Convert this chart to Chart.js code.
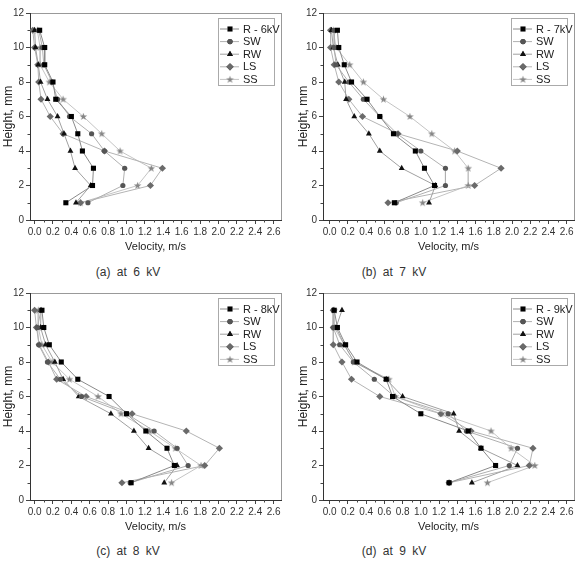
<!DOCTYPE html>
<html>
<head>
<meta charset="utf-8">
<script src="https://cdn.jsdelivr.net/npm/chart.js@4.4.1/dist/chart.umd.min.js"></script>
<style>
body { margin: 0; background: #fff; width: 581px; height: 564px; position: relative; overflow: hidden; font-family: "Liberation Sans", Arial, sans-serif; }
canvas { position: absolute; }
.cap { position: absolute; font-size: 12px; color: #333; word-spacing: 3px; transform: translateX(-50%); white-space: nowrap; }
</style>
</head>
<body>
<canvas id="c0" width="290" height="260" style="left:0;top:0"></canvas>
<canvas id="c1" width="291" height="260" style="left:290px;top:0"></canvas>
<canvas id="c2" width="290" height="260" style="left:0;top:280px"></canvas>
<canvas id="c3" width="291" height="260" style="left:290px;top:280px"></canvas>
<div class="cap" style="left:128px;top:265px">(a) at 6 kV</div>
<div class="cap" style="left:394px;top:265px">(b) at 7 kV</div>
<div class="cap" style="left:128px;top:544px">(c) at 8 kV</div>
<div class="cap" style="left:394px;top:544px">(d) at 9 kV</div>
<script>
// heights where velocity was measured (top to bottom)
const heights = [11, 10, 9, 8, 7, 6, 5, 4, 3, 2, 1];
const xTicks = [0, 0.2, 0.4, 0.6, 0.8, 1.0, 1.2, 1.4, 1.6, 1.8, 2.0, 2.2, 2.4, 2.6];
const yTicks = [0, 2, 4, 6, 8, 10, 12];

// 6 kV
const r6  = [0.055, 0.11, 0.11, 0.20, 0.23, 0.40, 0.47, 0.52, 0.64, 0.63, 0.34];
const sw6 = [0.045, 0.085, 0.10, 0.19, 0.25, 0.38, 0.62, 0.76, 0.98, 0.96, 0.58];
const rw6 = [0.0, 0.01, 0.04, 0.065, 0.14, 0.25, 0.32, 0.39, 0.44, 0.61, 0.45];
const ls6 = [-0.02, 0.0, 0.035, 0.045, 0.07, 0.17, 0.31, 0.76, 1.39, 1.26, 0.50];
const ss6 = [0.03, 0.06, 0.06, 0.16, 0.31, 0.53, 0.73, 0.93, 1.27, 1.12, 0.50];

// 7 kV
const r7  = [0.085, 0.10, 0.16, 0.24, 0.41, 0.55, 0.70, 0.94, 1.04, 1.15, 0.71];
const sw7 = [0.05, 0.05, 0.07, 0.21, 0.37, 0.55, 0.74, 1.00, 1.27, 1.27, 0.73];
const rw7 = [0.02, 0.04, 0.09, 0.165, 0.18, 0.27, 0.43, 0.55, 0.79, 1.16, 1.09];
const ls7 = [0.01, 0.01, 0.05, 0.10, 0.21, 0.36, 0.75, 1.40, 1.88, 1.59, 0.64];
const ss7 = [0.04, 0.07, 0.22, 0.37, 0.59, 0.88, 1.12, 1.37, 1.52, 1.52, 1.02];

// 8 kV
const r8  = [0.08, 0.10, 0.16, 0.29, 0.47, 0.81, 1.00, 1.21, 1.44, 1.52, 1.05];
const sw8 = [0.07, 0.03, 0.045, 0.14, 0.28, 0.51, 1.00, 1.30, 1.55, 1.67, 1.04];
const rw8 = [0.07, 0.065, 0.12, 0.22, 0.31, 0.48, 0.83, 1.08, 1.24, 1.55, 1.41];
const ls8 = [0.0, 0.02, 0.05, 0.15, 0.24, 0.56, 1.06, 1.65, 2.01, 1.85, 0.95];
const ss8 = [0.04, 0.04, 0.08, 0.19, 0.38, 0.69, 0.94, 1.25, 1.53, 1.81, 1.49];

// 9 kV
const r9  = [0.05, 0.085, 0.175, 0.30, 0.62, 0.69, 1.00, 1.52, 1.66, 1.82, 1.31];
const sw9 = [0.04, 0.04, 0.11, 0.26, 0.49, 0.71, 1.30, 1.50, 2.06, 1.97, 1.31];
const rw9 = [0.135, 0.07, 0.16, 0.27, 0.62, 0.80, 1.36, 1.42, 1.66, 2.06, 1.56];
const ls9 = [0.04, 0.04, 0.04, 0.135, 0.24, 0.55, 1.22, 1.55, 2.23, 2.19, 1.31];
const ss9 = [0.05, 0.05, 0.16, 0.27, 0.65, 0.72, 1.22, 1.77, 1.99, 2.25, 1.73];

const seriesNames = ['SW', 'RW', 'LS', 'SS'];

// filled star marker
const star = document.createElement('canvas');
star.width = 9; star.height = 9;
(function () {
    const g = star.getContext('2d');
    g.fillStyle = '#858585';
    g.beginPath();
    for (let i = 0; i < 10; i++) {
        const a = -Math.PI / 2 + i * Math.PI / 5;
        const rr = i % 2 ? 1.6 : 4;
        g.lineTo(4.5 + rr * Math.cos(a), 4.7 + rr * Math.sin(a));
    }
    g.closePath();
    g.fill();
})();

const styles = [
    { pointStyle: 'rect', color: '#000', line: '#8a8a8a', radius: 3.6 },
    { pointStyle: 'circle', color: '#555', line: '#b0b0b0', radius: 2.6 },
    { pointStyle: 'triangle', color: '#111', line: '#a0a0a0', radius: 3.4 },
    { pointStyle: 'rectRot', color: '#6a6a6a', line: '#b4b4b4', radius: 3.6 },
    { pointStyle: star, color: '#858585', line: '#c4c4c4', radius: 4 }
];

const frame = {
    id: 'frame',
    beforeDraw(chart) {
        const a = chart.chartArea, c = chart.ctx;
        c.save();
        c.strokeStyle = '#999';
        c.lineWidth = 1;
        c.strokeRect(a.left + 0.5, a.top + 0.5, a.right - a.left, a.bottom - a.top);
        c.restore();
    },
    afterDraw(chart) {
        const a = chart.chartArea, c = chart.ctx;
        const xs = chart.scales.x, ys = chart.scales.y;
        c.save();
        c.strokeStyle = '#444';
        c.lineWidth = 1;
        // minor ticks
        c.beginPath();
        for (let i = 1; i < 27; i += 2) {
            const px = Math.round(xs.getPixelForValue(i / 10)) + 0.5;
            c.moveTo(px, a.bottom); c.lineTo(px, a.bottom + 2.5);
        }
        for (let i = 1; i < 12; i += 2) {
            const py = Math.round(ys.getPixelForValue(i)) + 0.5;
            c.moveTo(a.left, py); c.lineTo(a.left - 2.5, py);
        }
        c.stroke();

        // legend box
        const w = 56, h = 67;
        const bx = a.right - 7 - w, by = a.top + 5;
        c.fillStyle = '#fff';
        c.fillRect(bx, by, w, h);
        c.strokeStyle = '#aaa';
        c.strokeRect(bx + 0.5, by + 0.5, w, h);
        c.font = '11px "Liberation Sans", Arial, sans-serif';
        c.textBaseline = 'middle';
        chart.data.datasets.forEach((ds, i) => {
            const ly = by + 11 + i * 12.6;
            c.strokeStyle = ds.borderColor;
            c.beginPath();
            c.moveTo(bx + 2, ly); c.lineTo(bx + 21, ly);
            c.stroke();
            Chart.helpers.drawPoint(c, {
                pointStyle: ds.pointStyle, radius: ds.pointRadius, rotation: 0, borderWidth: 0
            }, bx + 12, ly);
            c.fillStyle = ds.pointBackgroundColor;
            c.fill();
            c.fillStyle = '#222';
            c.fillText(ds.label, bx + 25, ly + 0.5);
        });
        c.restore();
    }
};

function makeChart(id, kv, cols, yWidth, titleLeft, xMin) {
    const datasets = cols.map((vals, i) => ({
        label: i === 0 ? 'R - ' + kv + 'kV' : seriesNames[i - 1],
        data: vals.map((v, k) => ({ x: v, y: heights[k] })),
        showLine: true,
        borderColor: styles[i].line,
        borderWidth: 1,
        pointStyle: styles[i].pointStyle,
        pointRadius: styles[i].radius,
        pointBackgroundColor: styles[i].color,
        pointBorderColor: styles[i].color,
        pointBorderWidth: 0
    }));
    const canvasW = document.getElementById(id).width;
    return new Chart(document.getElementById(id), {
        type: 'scatter',
        data: { datasets: datasets },
        options: {
            responsive: false,
            animation: false,
            layout: { padding: { left: 0, top: 13, right: canvasW - yWidth - 251, bottom: 0 } },
            plugins: { legend: { display: false }, tooltip: { enabled: false } },
            scales: {
                x: {
                    type: 'linear', min: xMin, max: 2.68,
                    afterFit: s => { s.height = 40; },
                    afterBuildTicks: s => { s.ticks = xTicks.map(v => ({ value: v })); },
                    grid: { drawOnChartArea: false, tickLength: 4, color: '#444' },
                    border: { color: '#333', width: 1 },
                    ticks: { color: '#333', padding: 2, maxRotation: 0, autoSkip: false,
                        font: { size: 10, family: '"Liberation Sans", Arial, sans-serif' },
                        callback: v => v.toFixed(1) },
                    title: { display: true, text: 'Velocity, m/s', color: '#222',
                        padding: { top: 0, bottom: 6 },
                        font: { size: 11, family: '"Liberation Sans", Arial, sans-serif' } }
                },
                y: {
                    type: 'linear', min: 0, max: 12,
                    afterFit: s => { s.width = yWidth; },
                    afterBuildTicks: s => { s.ticks = yTicks.map(v => ({ value: v })); },
                    grid: { drawOnChartArea: false, tickLength: 4, color: '#444' },
                    border: { color: '#333', width: 1 },
                    ticks: { color: '#333', padding: 2,
                        font: { size: 10, family: '"Liberation Sans", Arial, sans-serif' } },
                    title: { display: true, text: 'Height, mm', color: '#222',
                        padding: { top: titleLeft, bottom: 0 },
                        font: { size: 12, family: '"Liberation Sans", Arial, sans-serif' } }
                }
            }
        },
        plugins: [frame]
    });
}

makeChart('c0', 6, [r6, sw6, rw6, ls6, ss6], 30, 1, -0.05);
makeChart('c1', 7, [r7, sw7, rw7, ls7, ss7], 33, 6, -0.073);
makeChart('c2', 8, [r8, sw8, rw8, ls8, ss8], 30, 1, -0.05);
makeChart('c3', 9, [r9, sw9, rw9, ls9, ss9], 33, 6, -0.073);
</script>
</body>
</html>
